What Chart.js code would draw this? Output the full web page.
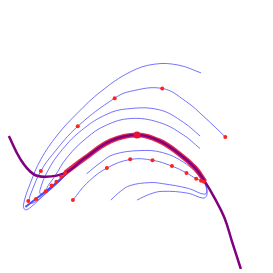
<!DOCTYPE html>
<html><head><meta charset="utf-8">
<script src="https://cdn.jsdelivr.net/npm/chart.js@4/dist/chart.umd.min.js"></script>
<style>html,body{margin:0;padding:0;background:#fff}canvas{display:block}</style>
</head><body>
<canvas id="c" width="273" height="273"></canvas>
<script>
// Main curve (purple)
const mainX = [5,17,30,43,63,83,110,137,160,180,197,207,217,227,235,244];
const mainY = [136,160,175,178,174,159,141,135,141,154,169,183,200,220,245,273];
// Thick highlighted arc
const arcX = [63,83,110,137,160,180,197,207];
const arcY = [174,159,141,135,141,154,169,183];
// Peak marker
const peakX = [137];
const peakY = [135];
// Upper trajectories
const aX = [203,180,155,130,100,75,55,38,27,20,22,28,40,55,65];
const aY = [71,63,62,70,90,113,135,160,185,207,212,209,198,185,175];
const bX = [228,207,187,163,130,114,76,50,38,29,26,30,43,55,65];
const bY = [137,117,100,87,90,97,126,155,172,192,203,205,195,184,175];
const cX = [202,185,160,127,105,80,60,45,37,38,45,55,65];
const cY = [136,122,109,108,114,130,150,172,192,196,192,184,175];
const dX = [202,185,160,130,105,85,65,52,44,46,55,65];
const dY = [149,135,122,118,125,138,158,178,190,192,184,175];
// Lower trajectories
const l1X = [71,85,106,131,153,173,188,198,204];
const l1Y = [202,185,169,160,161,167,174,180,182];
const l2X = [85,100,113,140,163,185,205];
const l2Y = [175,163,155,151,153,163,180];
const l3X = [110,120,130,150,163,190,207,209,205];
const l3Y = [202,193,187,184,185,190,196,190,182];
const l4X = [137,150,163,190,205,209,208,205];
const l4Y = [202,196,193,195,200,197,188,182];
// Diagonal return line
const diagX = [22,30,43,55,65];
const diagY = [209,203,193,183,174];
// Sample points (red)
const dotX = [25,33,43,49,54,59,63,38,71,76,114,163,228,106,130,153,173,188,198,203,206];
const dotY = [203,201,193,187,183,178,174,172,202,126,97,87,137,169,160,161,167,174,180,182,183];

const pts = (xs, ys) => xs.map((x, i) => ({x, y: ys[i]}));
const blue = 'rgba(80,80,255,0.8)';
const line = (xs, ys, color, w, order) => ({
  data: pts(xs, ys), showLine: true, borderColor: color, borderWidth: w,
  pointRadius: 0, tension: 0.4, fill: false, order
});

new Chart(document.getElementById('c'), {
  type: 'scatter',
  data: { datasets: [
    {data: pts(dotX, dotY), showLine: false, pointRadius: 2, backgroundColor: '#ff2020', borderWidth: 0, order: 0},
    {data: pts(peakX, peakY), showLine: false, pointRadius: 3.5, backgroundColor: '#e8103a', borderWidth: 0, order: 0},
    line(mainX, mainY, '#800080', 2.5, 1),
    line(arcX, arcY, 'rgba(225,20,60,0.9)', 5, 2),
    line(diagX, diagY, 'rgba(60,60,255,0.9)', 2, 3),
    line(aX, aY, blue, 1, 4),
    line(bX, bY, blue, 1, 4),
    line(cX, cY, blue, 1, 4),
    line(dX, dY, blue, 1, 4),
    line(l1X, l1Y, blue, 1, 4),
    line(l2X, l2Y, blue, 1, 4),
    line(l3X, l3Y, blue, 1, 4),
    line(l4X, l4Y, blue, 1, 4)
  ]},
  options: {
    responsive: false, animation: false,
    layout: {padding: 0},
    plugins: {legend: {display: false}, tooltip: {enabled: false}},
    scales: {
      x: {type: 'linear', min: 0, max: 273, display: false},
      y: {type: 'linear', min: 0, max: 273, reverse: true, display: false}
    }
  }
});
</script>
</body></html>
